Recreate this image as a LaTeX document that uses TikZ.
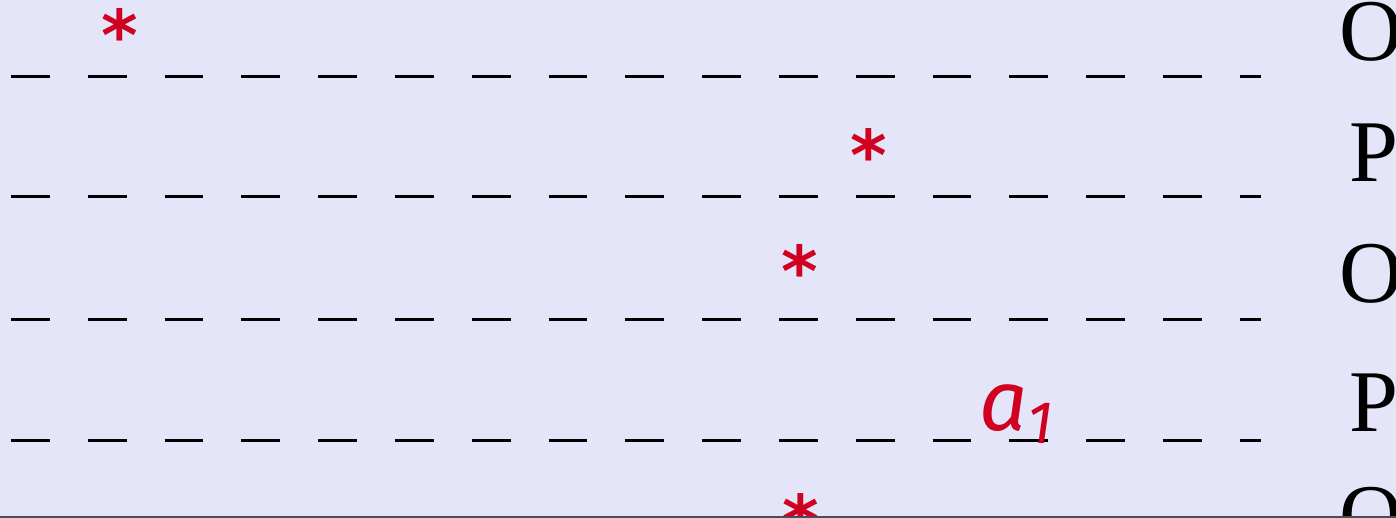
\documentclass[tikz,border=0pt]{standalone}
\usepackage{fontspec}
\newfontfamily\serifT{Liberation Serif}
\newfontfamily\fira{Fira Sans}
\newfontfamily\dejav{DejaVu Sans}
\definecolor{bgcol}{RGB}{229,229,250}
\definecolor{astred}{RGB}{208,0,32}
\definecolor{edgecol}{RGB}{75,75,90}
\begin{document}
\begin{tikzpicture}[x=1pt,y=-1pt,
  dashrow/.style={line width=3pt, dash pattern=on 38.7pt off 38.1pt, black},
  letter/.style={inner sep=0pt, anchor=base west, font=\serifT\fontsize{88}{88}\selectfont},
  astnode/.style={inner sep=0pt, anchor=base, text=astred, font=\dejav\bfseries\fontsize{70}{70}\selectfont},
  avar/.style={inner sep=0pt, anchor=base west, text=astred, font=\fira\itshape\fontsize{85}{85}\selectfont}]
\useasboundingbox (0,0) rectangle (1396,518);
\fill[bgcol] (0,0) rectangle (1396,518);
\clip (0,0) rectangle (1396,518);
\foreach \i/\y in {1/77,2/197,3/319,4/440} {
  \coordinate (s\i) at (11,\y);
  \coordinate (e\i) at (1261,\y);
  \draw[dashrow] (s\i) -- (e\i);
}
\node[letter] (L1) at (1339,61) {O};
\node[letter] (L2) at (1349,182) {P};
\node[letter] (L3) at (1339,302) {O};
\node[letter] (L4) at (1349,431) {P};
\node[letter] (L5) at (1339,545) {O};
\node[astnode] (A1) at (119.5,61) {*};
\node[astnode] (A2) at (868.5,181) {*};
\node[astnode] (A3) at (800,297) {*};
\node[astnode] (A5) at (801,545) {*};
\node[avar] (V) at (979,430) {a\raisebox{-13pt}{\fontsize{60}{60}\selectfont 1}};
\coordinate (bl) at (0,517.5);
\coordinate (br) at (1396,517.5);
\draw[line width=2.5pt, edgecol] (bl) -- (br);
\end{tikzpicture}
\end{document}
